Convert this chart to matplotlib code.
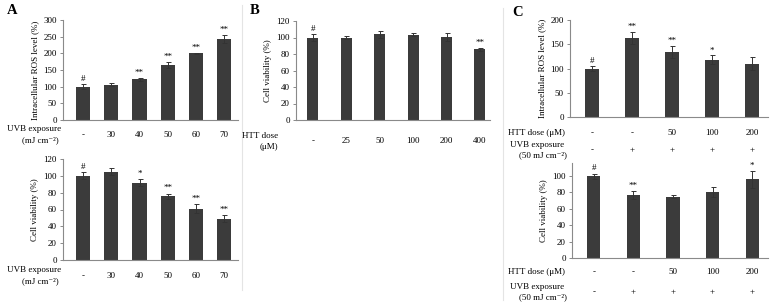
import matplotlib

matplotlib.use("Agg")
import matplotlib.pyplot as plt
from matplotlib.transforms import blended_transform_factory

W, H = 782, 305
plt.rcParams["font.family"] = ["Liberation Serif", "DejaVu Serif"]
plt.rcParams["font.size"] = 6.5

# --- data ---
uvb_doses = ["-", "30", "40", "50", "60", "70"]
ros_uvb = [100, 106, 122, 165, 200, 243]
ros_uvb_err = [8, 4, 5, 8, 2, 12]
ros_uvb_sig = ["#", "", "**", "**", "**", "**"]

via_uvb = [100, 105, 92, 76, 61, 49]
via_uvb_err = [4, 4, 4, 3, 5, 4]
via_uvb_sig = ["#", "", "*", "**", "**", "**"]

htt_doses = ["-", "25", "50", "100", "200", "400"]
via_htt = [100, 100, 104, 103.5, 101, 85.5]
via_htt_err = [4, 1.5, 4, 1.5, 5, 2]
via_htt_sig = ["#", "", "", "", "", "**"]

combo_htt = ["-", "-", "50", "100", "200"]
combo_uvb = ["-", "+", "+", "+", "+"]
ros_combo = [100, 163, 134, 118, 110]
ros_combo_err = [6, 12, 13, 9, 13]
ros_combo_sig = ["#", "**", "**", "*", ""]
via_combo = [100, 77, 75, 81, 96]
via_combo_err = [3, 5, 2, 6, 10]
via_combo_sig = ["#", "**", "", "", "*"]

BAR = "#3b3b3b"
SPINE = "#8a8a8a"
FS = 6.5

fig = plt.figure(figsize=(W / 100, H / 100), dpi=100)


def add_axes_px(left, top, right, bottom):
    return fig.add_axes([left / W, 1 - bottom / H, (right - left) / W, (bottom - top) / H])


def bar_panel(ax, values, errs, sig, ylim, yticks, ylabel, xlim, width, pad):
    x = range(len(values))
    ax.bar(x, values, width=width, color=BAR, zorder=2)
    ax.errorbar(x, values, yerr=errs, fmt="none", ecolor="#333333",
                elinewidth=0.7, capsize=1.8, capthick=0.7, zorder=3)
    for i, (v, e, s) in enumerate(zip(values, errs, sig)):
        if s:
            ax.text(i, v + e + pad, s, ha="center", va="bottom", fontsize=6.5)
    ax.set_xlim(*xlim)
    ax.set_ylim(*ylim)
    ax.set_yticks(yticks)
    ax.set_xticks([])
    ax.set_ylabel(ylabel, fontsize=FS, labelpad=3)
    for side in ["top", "right"]:
        ax.spines[side].set_visible(False)
    for side in ["left", "bottom"]:
        ax.spines[side].set_color(SPINE)
        ax.spines[side].set_linewidth(0.8)
    ax.tick_params(axis="y", direction="out", length=2.5, width=0.7,
                   color=SPINE, labelsize=FS, pad=2)


def row_text(ax, labels, y_px):
    tr = blended_transform_factory(ax.transData, fig.transFigure)
    for i, lab in enumerate(labels):
        ax.text(i, 1 - y_px / H, lab, transform=tr, ha="center", va="center",
                fontsize=FS, clip_on=False)


def left_text(x_px, y_px, s):
    fig.text(x_px / W, 1 - y_px / H, s, ha="right", va="center", fontsize=FS)


# Panel A (top)
axA1 = add_axes_px(63, 20, 238, 120)
bar_panel(axA1, ros_uvb, ros_uvb_err, ros_uvb_sig, (0, 300), range(0, 301, 50),
          "Intracellular ROS level (%)", (-0.72, 5.5), 0.5, 3)
row_text(axA1, uvb_doses, 135)
left_text(61, 129, "UVB exposure")
left_text(59, 140, "(mJ cm\u207b\u00b2)")

# Panel A (bottom)
axA2 = add_axes_px(63, 159, 238, 260)
bar_panel(axA2, via_uvb, via_uvb_err, via_uvb_sig, (0, 120), range(0, 121, 20),
          "Cell viability (%)", (-0.72, 5.5), 0.5, 1.5)
row_text(axA2, uvb_doses, 276)
left_text(61, 270, "UVB exposure")
left_text(59, 281, "(mJ cm\u207b\u00b2)")

# Panel B
axB = add_axes_px(296, 21, 490, 120)
bar_panel(axB, via_htt, via_htt_err, via_htt_sig, (0, 120), range(0, 121, 20),
          "Cell viability (%)", (-0.5, 5.3), 0.33, 1.5)
row_text(axB, htt_doses, 141)
left_text(278, 136, "HTT dose")
left_text(278, 147, "(\u03bcM)")

# Panel C (top)
axC1 = add_axes_px(570, 20, 768, 117)
bar_panel(axC1, ros_combo, ros_combo_err, ros_combo_sig, (0, 200), range(0, 201, 50),
          "Intracellular ROS level (%)", (-0.55, 4.4), 0.33, 2)
row_text(axC1, combo_htt, 133)
row_text(axC1, combo_uvb, 150)
left_text(565, 133, "HTT dose (\u03bcM)")
left_text(564, 145, "UVB exposure")
left_text(567, 155, "(50 mJ cm\u207b\u00b2)")

# Panel C (bottom)
axC2 = add_axes_px(572, 163, 768, 258)
bar_panel(axC2, via_combo, via_combo_err, via_combo_sig, (0, 116), range(0, 101, 20),
          "Cell viability (%)", (-0.55, 4.4), 0.33, 1.5)
row_text(axC2, combo_htt, 272)
row_text(axC2, combo_uvb, 292)
left_text(565, 272, "HTT dose (\u03bcM)")
left_text(564, 287, "UVB exposure")
left_text(567, 297, "(50 mJ cm\u207b\u00b2)")

# panel letters
for x_px, y_px, s in [(7, 11, "A"), (250, 11, "B"), (512, 12, "C")]:
    fig.text(x_px / W, 1 - y_px / H, s, ha="left", va="center",
             fontsize=10.5, fontweight="bold")

# faint panel separators
for x_px, y0, y1 in [(242, 5, 290), (503, 8, 300)]:
    fig.add_artist(plt.Line2D([x_px / W, x_px / W], [1 - y1 / H, 1 - y0 / H],
                              color="#e4e4e4", linewidth=0.8))

fig.savefig("out.png", dpi=100)
